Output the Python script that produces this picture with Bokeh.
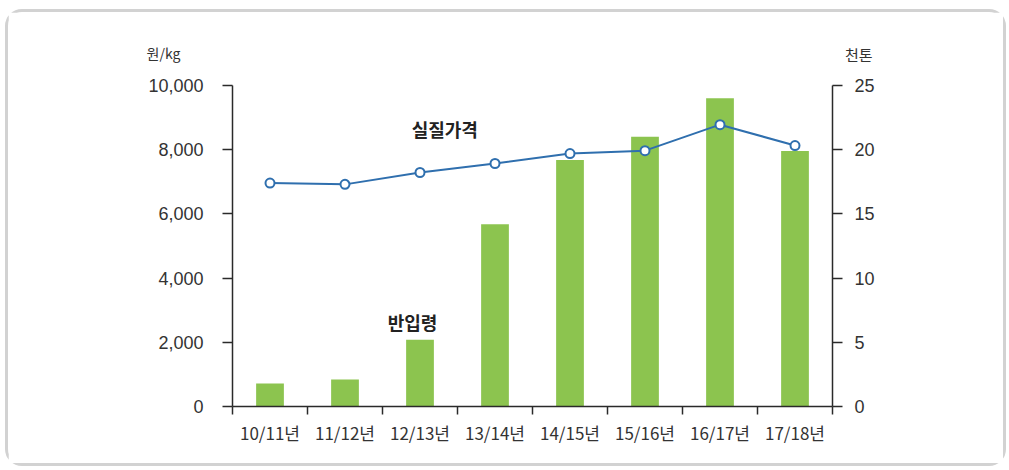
from bokeh.plotting import figure
from bokeh.models import (Range1d, LinearAxis, FixedTicker, NumeralTickFormatter, Label)
from bokeh.embed import file_html
from bokeh.resources import INLINE

# ---- data ----
categories = ["10/11년", "11/12년", "12/13년", "13/14년", "14/15년", "15/16년", "16/17년", "17/18년"]
import_volume = [1.8, 2.1, 5.2, 14.2, 19.2, 21.0, 24.0, 19.9]          # 천톤 (right axis)
real_price = [6960, 6920, 7290, 7570, 7880, 7970, 8780, 8130]          # 원/kg (left axis)
left_ticks = [0, 2000, 4000, 6000, 8000, 10000]
right_ticks = [0, 5, 10, 15, 20, 25]

n = len(categories)
x_centers = [i + 0.5 for i in range(n)]
x_bounds = [float(i) for i in range(n + 1)]

# ---- layout (pixels, page coordinates) ----
OX, OY = 8, 12                            # element offset (CSS margins)
EW, EH = 995, 451                         # element size
FL, FR, FT, FB = 128, 892, 32, 456        # frame edges
AX_L, AX_R, AX_T, AX_B = 232, 832, 85, 406  # axes box inside the frame
px_per_x = (AX_R - AX_L) / n
px_per_y = (AX_B - AX_T) / left_ticks[-1]
x_start = (FL - AX_L) / px_per_x
x_end = (FR - AX_L) / px_per_x
y_start = -(FB - AX_B) / px_per_y
y_end = (AX_B - FT) / px_per_y
vol_scale = right_ticks[-1] / left_ticks[-1]

TXT = "#333333"
AXC = "#2a2a2a"
NUMFONT = "Liberation Sans"
KFONT = "Noto Sans CJK KR"

p = figure(frame_width=FR - FL, frame_height=FB - FT,
           x_range=Range1d(x_start, x_end), y_range=Range1d(y_start, y_end),
           output_backend="svg", toolbar_location=None,
           min_border_left=FL - OX, min_border_right=OX + EW - FR,
           min_border_top=FT - OY, min_border_bottom=OY + EH - FB,
           background_fill_color="white", border_fill_color="white")
p.styles = {"margin-left": f"{OX}px", "margin-top": f"{OY}px",
            "outline": "3px solid #d2d2d2", "border-radius": "14px"}
p.outline_line_color = None
p.xgrid.visible = False
p.ygrid.visible = False

p.extra_y_ranges = {"vol": Range1d(y_start * vol_scale, y_end * vol_scale)}

# bars
p.vbar(x=x_centers, top=import_volume, bottom=0, width=0.37, y_range_name="vol",
       fill_color="#8cc44f", line_color=None)

# line + markers
p.line(x_centers, real_price, line_color="#2f6fae", line_width=2)
p.scatter(x_centers, real_price, size=9, marker="circle",
          fill_color="white", line_color="#2f6fae", line_width=2)

# x axis (at y = 0)
xa = p.xaxis[0]
xa.fixed_location = 0
xa.bounds = (0, n)
xa.ticker = FixedTicker(ticks=x_centers, minor_ticks=x_bounds)
xa.major_label_overrides = {x: c for x, c in zip(x_centers, categories)}
xa.major_tick_out = 0
xa.major_tick_in = 0
xa.minor_tick_out = 8
xa.minor_tick_in = 0
xa.minor_tick_line_color = AXC
xa.minor_tick_line_width = 1.5
xa.axis_line_color = AXC
xa.axis_line_width = 1.5
xa.major_label_standoff = 5
xa.major_label_text_font = KFONT
xa.major_label_text_font_size = "17px"
xa.major_label_text_color = TXT

# left axis (at x = 0)
ya = p.yaxis[0]
ya.fixed_location = 0
ya.bounds = (left_ticks[0], left_ticks[-1])
ya.ticker = FixedTicker(ticks=left_ticks)
ya.formatter = NumeralTickFormatter(format="0,0")
ya.major_tick_out = 10
ya.major_tick_in = 0
ya.minor_tick_line_color = None
ya.major_tick_line_color = AXC
ya.major_tick_line_width = 1.5
ya.axis_line_color = AXC
ya.axis_line_width = 1.5
ya.major_label_standoff = 19
ya.major_label_text_font = NUMFONT
ya.major_label_text_font_size = "18px"
ya.major_label_text_color = TXT

# right axis (at x = n)
ra = LinearAxis(y_range_name="vol", ticker=FixedTicker(ticks=right_ticks))
ra.fixed_location = n
ra.bounds = (right_ticks[0], right_ticks[-1])
ra.major_tick_out = 10
ra.major_tick_in = 0
ra.minor_tick_line_color = None
ra.major_tick_line_color = AXC
ra.major_tick_line_width = 1.5
ra.axis_line_color = AXC
ra.axis_line_width = 1.5
ra.major_label_standoff = 12
ra.major_label_text_font = NUMFONT
ra.major_label_text_font_size = "18px"
ra.major_label_text_color = TXT
p.add_layout(ra, "right")

# unit labels
p.add_layout(Label(x=-0.92, y=11000, text="원/kg", text_align="center", text_baseline="middle",
                   text_font=KFONT, text_font_size="14px", text_color=TXT))
p.add_layout(Label(x=8.35, y=10970, text="천톤", text_align="center", text_baseline="middle",
                   text_font=KFONT, text_font_size="15px", text_color=TXT))

# series annotations
p.add_layout(Label(x=2.83, y=8630, text="실질가격", text_align="center", text_baseline="middle",
                   text_font=KFONT, text_font_size="18px", text_font_style="bold", text_color="#222222"))
p.add_layout(Label(x=2.4, y=2620, text="반입령", text_align="center", text_baseline="middle",
                   text_font=KFONT, text_font_size="18px", text_font_style="bold", text_color="#222222"))

open("out.html", "w").write(file_html(p, INLINE))
